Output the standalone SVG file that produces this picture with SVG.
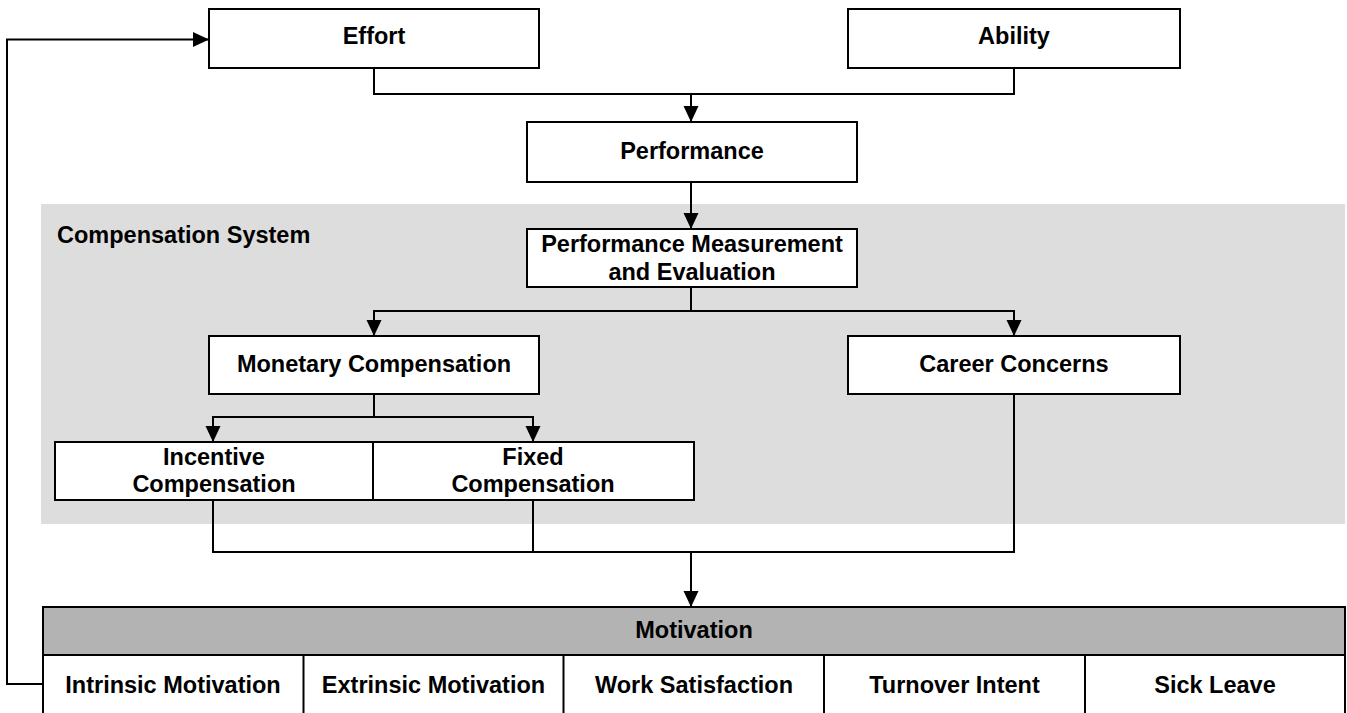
<svg xmlns="http://www.w3.org/2000/svg" width="1347" height="713" viewBox="0 0 1347 713">
<style>
.box{fill:#fff;stroke:#000;stroke-width:2}
.hdr{fill:#b3b3b3;stroke:#000;stroke-width:2}
.t{font-family:"Liberation Sans",Arial,sans-serif;font-weight:bold;font-size:23.5px;fill:#000;text-anchor:middle}
.tl{font-family:"Liberation Sans",Arial,sans-serif;font-weight:bold;font-size:23.5px;fill:#000}
.c{fill:none;stroke:#000;stroke-width:2}
.ca{fill:none;stroke:#000;stroke-width:2;marker-end:url(#ah)}
</style>
<defs>
<marker id="ah" markerUnits="userSpaceOnUse" markerWidth="17" markerHeight="16" refX="16" refY="7.5" orient="auto">
<path d="M0,0 L16,7.5 L0,15 z" fill="#000"/>
</marker>
</defs>
<rect id="compensation-system" x="41" y="204" width="1304" height="320" fill="#dddddd"/>
<text class="tl" x="57" y="243">Compensation System</text>
<g id="connectors">
<polyline class="c" points="374,68 374,94 1014,94 1014,68"/>
<line class="ca" x1="691" y1="94" x2="691" y2="122"/>
<line class="ca" x1="691" y1="182" x2="691" y2="229"/>
<polyline class="c" points="691,287 691,311"/>
<polyline class="ca" points="691,311 374,311 374,336"/>
<polyline class="ca" points="691,311 1014,311 1014,336"/>
<polyline class="c" points="374,394 374,417"/>
<polyline class="ca" points="374,417 213,417 213,442"/>
<polyline class="ca" points="374,417 533,417 533,442"/>
<polyline class="c" points="213,500 213,552 1014,552 1014,394"/>
<line class="c" x1="533" y1="500" x2="533" y2="552"/>
<line class="ca" x1="691" y1="552" x2="691" y2="607"/>
<polyline class="ca" points="43,684 7,684 7,39.5 209,39.5"/>
</g>
<g id="effort">
<rect class="box" x="209" y="9" width="330" height="59"/>
<text class="t" x="374" y="44">Effort</text>
</g>
<g id="ability">
<rect class="box" x="848" y="9" width="332" height="59"/>
<text class="t" x="1014" y="44">Ability</text>
</g>
<g id="performance">
<rect class="box" x="527" y="122" width="330" height="60"/>
<text class="t" x="692" y="159">Performance</text>
</g>
<g id="performance-measurement">
<rect class="box" x="527" y="229" width="330" height="58"/>
<text class="t" x="692" y="252">Performance Measurement</text>
<text class="t" x="692" y="280">and Evaluation</text>
</g>
<g id="monetary-compensation">
<rect class="box" x="209" y="336" width="330" height="58"/>
<text class="t" x="374" y="372">Monetary Compensation</text>
</g>
<g id="career-concerns">
<rect class="box" x="848" y="336" width="332" height="58"/>
<text class="t" x="1014" y="372">Career Concerns</text>
</g>
<g id="incentive-compensation">
<rect class="box" x="55" y="442" width="318" height="58"/>
<text class="t" x="214" y="465">Incentive</text>
<text class="t" x="214" y="492">Compensation</text>
</g>
<g id="fixed-compensation">
<rect class="box" x="373" y="442" width="321" height="58"/>
<text class="t" x="533" y="465">Fixed</text>
<text class="t" x="533" y="492">Compensation</text>
</g>
<g id="motivation">
<rect class="hdr" x="43" y="607" width="1302" height="48"/>
<text class="t" x="694" y="638">Motivation</text>
<rect class="box" x="43" y="655" width="1302" height="70"/>
<line class="c" x1="303.5" y1="655" x2="303.5" y2="713"/>
<line class="c" x1="563.5" y1="655" x2="563.5" y2="713"/>
<line class="c" x1="824" y1="655" x2="824" y2="713"/>
<line class="c" x1="1085" y1="655" x2="1085" y2="713"/>
<text class="t" x="173" y="693">Intrinsic Motivation</text>
<text class="t" x="433.5" y="693">Extrinsic Motivation</text>
<text class="t" x="694" y="693">Work Satisfaction</text>
<text class="t" x="954.5" y="693">Turnover Intent</text>
<text class="t" x="1215" y="693">Sick Leave</text>
</g>
</svg>
